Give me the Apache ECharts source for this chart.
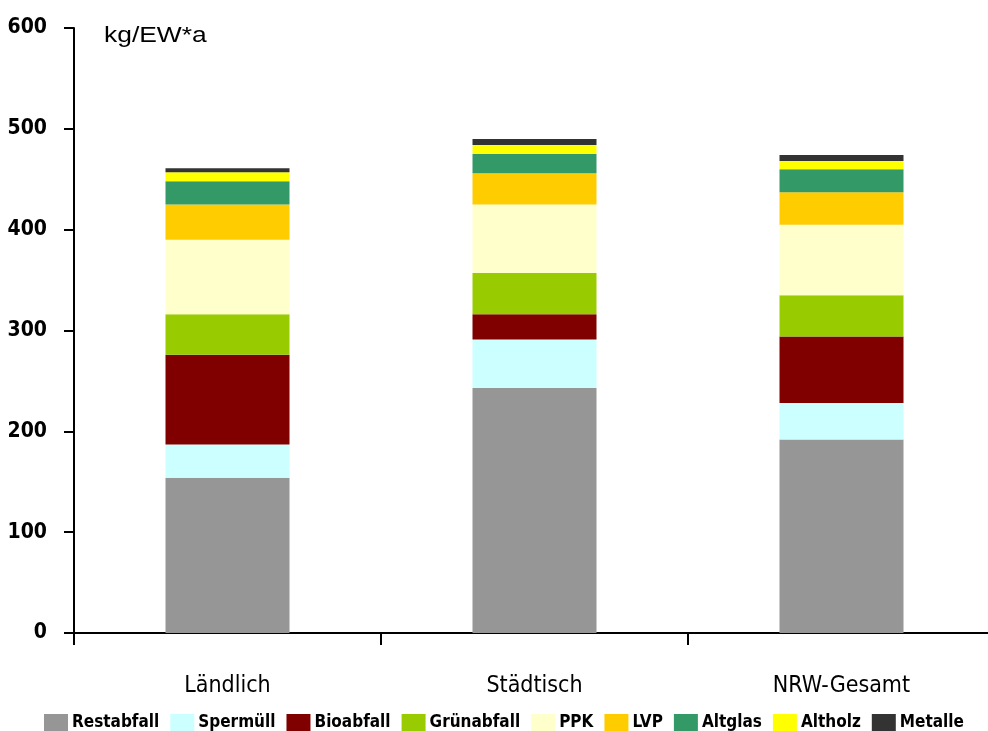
<!DOCTYPE html>
<html>
<head>
<meta charset="utf-8">
<script src="https://cdn.jsdelivr.net/npm/echarts@6/dist/echarts.min.js"></script>
<style>
  html, body { margin: 0; padding: 0; background: #fff; }
  #chart { width: 988px; height: 731px; }
</style>
</head>
<body>
<div id="chart"></div>
<script>
// Regions compared
const categories = ['Ländlich', 'Städtisch', 'NRW-Gesamt'];

// Waste streams per region, kg per inhabitant and year
const restabfall = [154, 243, 192];
const sperrmuell = [33, 48, 36];
const bioabfall  = [89, 25, 66];
const gruenabfall = [40, 41, 41];
const ppk        = [74, 68, 70];
const lvp        = [35, 31, 32];
const altglas    = [23, 19, 23];
const altholz    = [9, 9, 8];
const metalle    = [4, 6, 6];

const yTicks = [0, 100, 200, 300, 400, 500, 600];

const streams = [
  { name: 'Restabfall', data: restabfall, color: '#969696' },
  { name: 'Spermüll',   data: sperrmuell, color: '#ccffff' },
  { name: 'Bioabfall',  data: bioabfall,  color: '#800000' },
  { name: 'Grünabfall', data: gruenabfall, color: '#99cc00' },
  { name: 'PPK',        data: ppk,        color: '#ffffcc' },
  { name: 'LVP',        data: lvp,        color: '#ffcc00' },
  { name: 'Altglas',    data: altglas,    color: '#339966' },
  { name: 'Altholz',    data: altholz,    color: '#ffff00' },
  { name: 'Metalle',    data: metalle,    color: '#333333' }
];

const pixelFont = '"DejaVu Sans Condensed", "DejaVu Sans", sans-serif';

const chart = echarts.init(document.getElementById('chart'), null, { renderer: 'canvas' });

chart.setOption({
  animation: false,
  backgroundColor: '#ffffff',
  // plot area runs a little past the right edge of the canvas
  grid: { left: 74, width: 921, top: 28, bottom: 98, containLabel: false, outerBoundsMode: 'none' },
  graphic: [{
    type: 'text',
    left: 104,
    top: 25,
    scaleX: 1.2,
    style: { text: 'kg/EW*a', font: '22px "Liberation Sans", Arial, sans-serif', fill: '#000' }
  }],
  legend: {
    left: 44,
    bottom: 0,
    padding: 0,
    itemWidth: 24,
    itemHeight: 17,
    itemGap: 11,
    icon: 'rect',
    textStyle: { fontFamily: pixelFont, fontSize: 17, fontWeight: 'bold', color: '#000', padding: [0, 0, 0, -1] },
    data: streams.map(s => s.name)
  },
  xAxis: {
    type: 'category',
    data: categories,
    axisLine: { lineStyle: { color: '#000', width: 2 } },
    axisTick: { show: true, length: 12, lineStyle: { color: '#000', width: 2 } },
    axisLabel: { margin: 42, fontFamily: pixelFont, fontSize: 23, color: '#000' }
  },
  yAxis: {
    type: 'value',
    min: 0,
    max: 600,
    interval: 100,
    splitLine: { show: false },
    axisLine: { show: true, lineStyle: { color: '#000', width: 2 } },
    axisTick: { show: true, length: 10, lineStyle: { color: '#000', width: 2 } },
    axisLabel: {
      margin: 27,
      fontFamily: pixelFont,
      fontSize: 21,
      fontWeight: 'bold',
      color: '#000',
      formatter: v => yTicks.includes(v) ? String(v) : ''
    }
  },
  series: streams.map(s => ({
    name: s.name,
    type: 'bar',
    stack: 'total',
    barWidth: 124,
    data: s.data,
    itemStyle: { color: s.color }
  }))
});
</script>
</body>
</html>
